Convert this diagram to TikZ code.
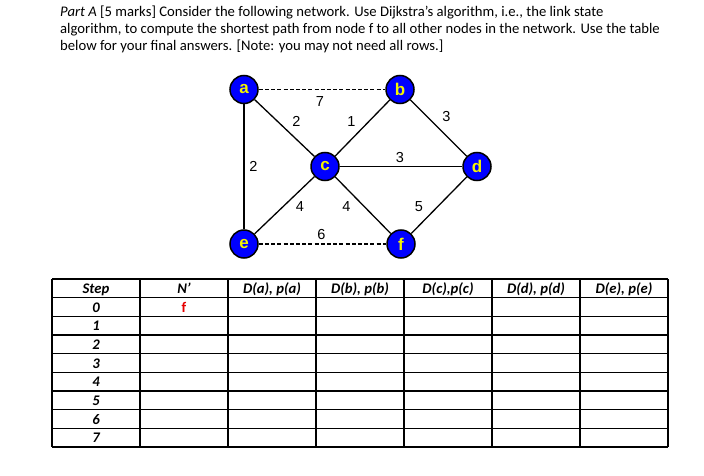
\documentclass[tikz,border=0pt]{standalone}
\usepackage{fontspec}
\setmainfont{Carlito}
\newfontfamily\arialfont{Liberation Sans}
\definecolor{nodeblue}{RGB}{0,0,255}
\definecolor{nodeyellow}{RGB}{245,245,0}
\definecolor{redf}{RGB}{230,0,0}
\begin{document}
\begin{tikzpicture}[x=1pt,y=-1pt,
  vert/.style={circle,draw=black,line width=1.5pt,fill=nodeblue,minimum size=28pt,inner sep=0pt,
    text=nodeyellow,font=\arialfont\bfseries\fontsize{17}{17}\selectfont},
  link/.style={line width=1.3pt},
  dlink/.style={line width=1.1pt,dash pattern=on 4pt off 2.2pt},
  wt/.style={font=\arialfont\fontsize{14.5}{14.5}\selectfont,inner sep=0pt},
  para/.style={anchor=base west,inner sep=0pt,font=\fontsize{14.67}{17}\selectfont},
  cell/.style={anchor=base,inner sep=0pt,font=\bfseries\itshape\fontsize{14.67}{17}\selectfont},
  grid/.style={line width=1.1pt}]
\useasboundingbox (0,0) rectangle (704,476);
\fill[white] (0,0) rectangle (704,476);
% paragraph
\node[para] (l1) at (60,16.5) {\textit{Part A} [5 marks] Consider the following network. Use Dijkstra’s algorithm, i.e., the link state};
\node[para] (l2) at (60,33.5) {algorithm, to compute the shortest path from node f to all other nodes in the network. Use the table};
\node[para] (l3) at (60,50.5) {below for your final answers. [Note: you may not need all rows.]};
% graph
\node[vert] (a) at (244,89.5) {a};
\node[vert] (b) at (400,89.5) {b};
\node[vert] (c) at (325,166.5) {c};
\node[vert] (d) at (477,166.5) {d};
\node[vert] (e) at (244,244) {e};
\node[vert] (f) at (401,244) {f};
\draw[dlink] (a) -- (b);
\draw[dlink] (e) -- (f);
\draw[line width=2.3pt] (a) -- (e);
\draw[link] (a) -- (c);
\draw[link] (b) -- (c);
\draw[link] (b) -- (d);
\draw[link] (c) -- (d);
\draw[link] (c) -- (e);
\draw[link] (c) -- (f);
\draw[link] (d) -- (f);
\node[wt] (w7) at (320,101.5) {7};
\node[wt] (w2ac) at (296.5,121.5) {2};
\node[wt] (w1) at (351.5,121.5) {1};
\node[wt] (w3bd) at (446.5,116.5) {3};
\node[wt] (w2ae) at (253.5,166.5) {2};
\node[wt] (w3cd) at (400,158) {3};
\node[wt] (w4ce) at (300,206.5) {4};
\node[wt] (w4cf) at (346.5,206.5) {4};
\node[wt] (w5) at (419,206.5) {5};
\node[wt] (w6) at (321.5,235) {6};
% table
\foreach \yy in {279,297.67,316.33,335,353.67,372.33,391,409.67,428.33,447}
  \draw[grid] (52,\yy) -- (668,\yy);
\foreach \xx in {52,140,228,316,404,492,580,668}
  \draw[grid] (\xx,279) -- (\xx,447);
\node[cell] (hstep) at (96,293.5) {Step};
\node[cell] (hn) at (184,293.5) {N’};
\node[cell] (ha) at (272,293.5) {D(a), p(a)};
\node[cell] (hb) at (360,293.5) {D(b), p(b)};
\node[cell] (hc) at (448,293.5) {D(c),p(c)};
\node[cell] (hd) at (536,293.5) {D(d), p(d)};
\node[cell] (he) at (624,293.5) {D(e), p(e)};
\foreach \i in {0,...,7}
  \node[cell] (s\i) at (96,{312.2+18.667*\i}) {\i};
\node[anchor=base,inner sep=0pt,text=redf,font=\bfseries\fontsize{14.67}{17}\selectfont] (nf) at (184,312.2) {f};
\end{tikzpicture}
\end{document}
